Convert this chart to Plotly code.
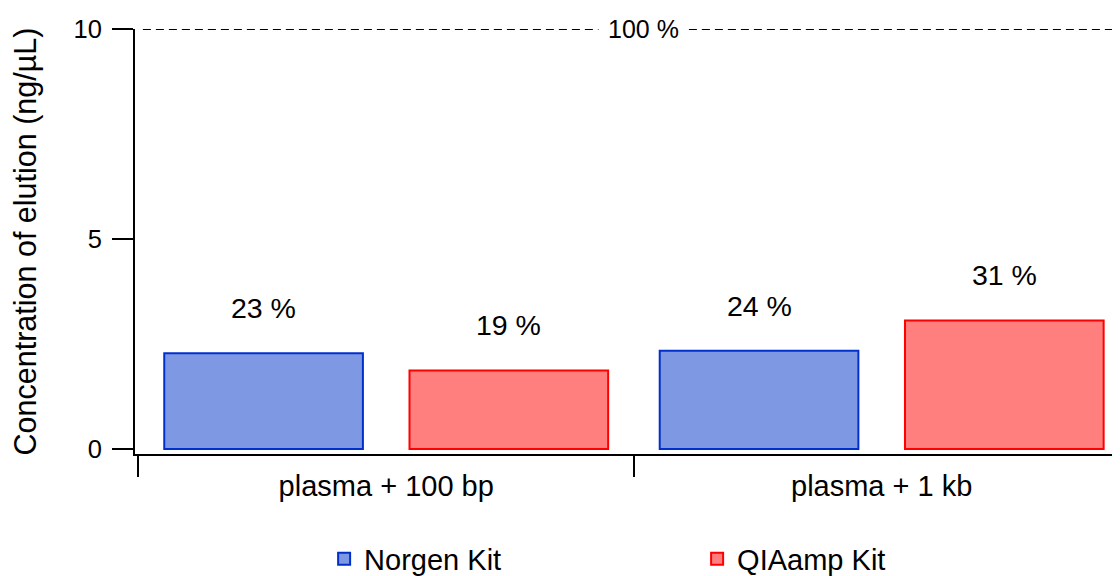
import plotly.graph_objects as go

categories = ["plasma + 100 bp", "plasma + 1 kb"]
norgen_values = [2.28, 2.34]
qiaamp_values = [1.87, 3.06]
norgen_pct = ["23 %", "24 %"]
qiaamp_pct = ["19 %", "31 %"]
reference_value = 10
reference_label = "100 %"
series_names = ["Norgen Kit", "QIAamp Kit"]

FONT = "Liberation Sans, Arial, sans-serif"
BARGAP = 0.01
BARGROUPGAP = 0.19

fig = go.Figure()
fig.add_trace(go.Bar(
    x=categories, y=norgen_values, name=series_names[0],
    marker=dict(color="rgba(0,50,200,0.5)", line=dict(color="#0030CC", width=2)),
))
fig.add_trace(go.Bar(
    x=categories, y=qiaamp_values, name=series_names[1],
    marker=dict(color="rgba(255,0,0,0.5)", line=dict(color="#FF0000", width=2)),
))

off = (1 - BARGAP) / 4
annotations = []
for i, cat in enumerate(categories):
    for sign, vals, pcts in ((-1, norgen_values, norgen_pct), (1, qiaamp_values, qiaamp_pct)):
        annotations.append(dict(
            x=i + sign * off, y=vals[i], xref="x", yref="y",
            text=pcts[i], showarrow=False, yshift=45, yanchor="middle",
            font=dict(size=28.5, color="black", family=FONT),
        ))
annotations.append(dict(
    x=0.516, y=reference_value, xref="paper", yref="y", text=reference_label,
    showarrow=False, bgcolor="white", borderpad=9, yanchor="middle",
    font=dict(size=25, color="black", family=FONT),
))

fig.add_shape(type="line", xref="paper", yref="y", x0=0.008, x1=1,
              y0=reference_value, y1=reference_value,
              line=dict(color="black", width=2, dash="8px,5px"), layer="below")

fig.update_layout(
    width=1120, height=576,
    margin=dict(l=127, r=8, t=21, b=130, autoexpand=False),
    paper_bgcolor="white", plot_bgcolor="white",
    barmode="group", bargap=BARGAP, bargroupgap=BARGROUPGAP,
    font=dict(family=FONT, color="black", size=29),
    annotations=annotations,
    showlegend=True,
    legend=dict(orientation="h", x=0.192, xanchor="left", y=-0.247, yanchor="middle",
                font=dict(size=29, family=FONT), entrywidth=328, traceorder="normal"),
    xaxis=dict(
        range=[-0.507, 1.481], showline=True, linecolor="black", linewidth=2,
        ticks="outside", tickson="boundaries", ticklen=21, tickwidth=2, tickcolor="black",
        tickfont=dict(size=29, family=FONT), showgrid=False, zeroline=False,
        ticklabelstandoff=5, automargin=False,
    ),
    yaxis=dict(
        range=[-0.12, 10], tickvals=[0, 5, 10], showline=True, linecolor="black", linewidth=2,
        ticks="outside", ticklen=21, tickwidth=2, tickcolor="black",
        tickfont=dict(size=25.5, family=FONT), showgrid=False, zeroline=False,
        title=dict(text="Concentration of elution (ng/µL)", font=dict(size=30.5, family=FONT), standoff=30),
        ticklabelstandoff=5, automargin=False,
    ),
)

fig.write_html("out.html")
